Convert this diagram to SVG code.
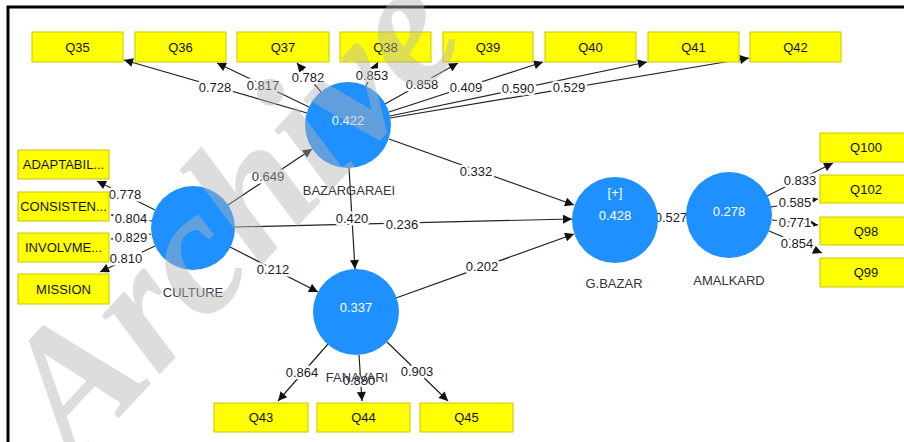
<svg xmlns="http://www.w3.org/2000/svg" width="904" height="442" viewBox="0 0 904 442">
<defs>
<marker id="ah" viewBox="0 0 10 10" refX="10" refY="5" markerWidth="10" markerHeight="9" markerUnits="userSpaceOnUse" orient="auto">
<path d="M0,0 L10,5 L0,10 z" fill="#111"/>
</marker>
<style>
.frame{stroke:#000;stroke-width:3;fill:none}
.box{fill:#FFFF00;stroke:#C9C400;stroke-width:1}
.bt{font-family:"Liberation Sans",Arial,sans-serif;font-size:13px;fill:#111;text-anchor:middle}
.lv{fill:#1E90FF}
.vt{font-family:"Liberation Sans",Arial,sans-serif;font-size:13px;fill:#fff;text-anchor:middle}
.nm{font-family:"Liberation Sans",Arial,sans-serif;font-size:13px;fill:#3a3242;text-anchor:middle}
.ln{stroke:#222;stroke-width:1.2;fill:none;marker-end:url(#ah)}
.lb{font-family:"Liberation Sans",Arial,sans-serif;font-size:13px;fill:#1a1a2a;text-anchor:middle;stroke:#fff;stroke-width:5;paint-order:stroke;stroke-linejoin:round}
.wm{font-family:"Liberation Serif","Times New Roman",serif;font-size:180px;font-weight:bold;font-style:italic;fill:#b4b4b4;opacity:0.45}
</style>
</defs>
<rect width="904" height="442" fill="#fff"/>
<path class="frame" d="M8,442 L8,7 L904,7"/>

<g id="connectors">
<line class="ln" x1="307" y1="113" x2="124" y2="60"/>
<line class="ln" x1="309" y1="107" x2="217" y2="63"/>
<line class="ln" x1="321" y1="92" x2="297" y2="63"/>
<line class="ln" x1="366" y1="86" x2="378" y2="62"/>
<line class="ln" x1="385" y1="104" x2="458" y2="63"/>
<line class="ln" x1="389" y1="112" x2="543" y2="62"/>
<line class="ln" x1="390" y1="116" x2="647" y2="62"/>
<line class="ln" x1="390" y1="118" x2="749" y2="58"/>
<line class="ln" x1="155" y1="210" x2="97" y2="181"/>
<line class="ln" x1="152" y1="221" x2="111" y2="215"/>
<line class="ln" x1="151" y1="234" x2="111" y2="239"/>
<line class="ln" x1="155" y1="246" x2="100" y2="272"/>
<line class="ln" x1="228" y1="205" x2="312" y2="149"/>
<line class="ln" x1="235" y1="227" x2="572" y2="219"/>
<line class="ln" x1="230" y1="247" x2="318" y2="292"/>
<line class="ln" x1="349" y1="168" x2="355" y2="269"/>
<line class="ln" x1="389" y1="139" x2="574" y2="205"/>
<line class="ln" x1="396" y1="298" x2="574" y2="234"/>
<line class="ln" x1="658" y1="219" x2="686" y2="216"/>
<line class="ln" x1="767" y1="196" x2="833" y2="163"/>
<line class="ln" x1="771" y1="207" x2="818" y2="199"/>
<line class="ln" x1="772" y1="220" x2="818" y2="225"/>
<line class="ln" x1="769" y1="231" x2="822" y2="253"/>
<line class="ln" x1="328" y1="344" x2="278" y2="401"/>
<line class="ln" x1="359" y1="355" x2="362" y2="401"/>
<line class="ln" x1="387" y1="342" x2="448" y2="401"/>
</g>

<g id="edge-labels">
<text class="lb" x="215" y="92">0.728</text>
<text class="lb" x="263" y="90">0.817</text>
<text class="lb" x="308" y="82">0.782</text>
<text class="lb" x="372" y="80">0.853</text>
<text class="lb" x="422" y="89">0.858</text>
<text class="lb" x="466" y="92">0.409</text>
<text class="lb" x="518" y="93">0.590</text>
<text class="lb" x="569" y="92">0.529</text>
<text class="lb" x="125" y="199">0.778</text>
<text class="lb" x="131" y="223">0.804</text>
<text class="lb" x="131" y="242">0.829</text>
<text class="lb" x="126" y="263">0.810</text>
<text class="lb" x="268" y="181">0.649</text>
<text class="lb" x="402" y="229">0.236</text>
<text class="lb" x="273" y="274">0.212</text>
<text class="lb" x="352" y="223">0.420</text>
<text class="lb" x="476" y="176">0.332</text>
<text class="lb" x="482" y="271">0.202</text>
<text class="lb" x="671" y="222">0.527</text>
<text class="lb" x="800" y="185">0.833</text>
<text class="lb" x="795" y="207">0.585</text>
<text class="lb" x="795" y="227">0.771</text>
<text class="lb" x="797" y="248">0.854</text>
<text class="lb" x="302" y="377">0.864</text>
<text class="lb" x="359" y="385">0.880</text>
<text class="lb" x="417" y="376">0.903</text>
</g>

<g id="Q35"><rect class="box" x="32" y="32" width="91" height="30"/><text class="bt" x="77.5" y="51.5">Q35</text></g>
<g id="Q36"><rect class="box" x="135" y="32" width="91" height="30"/><text class="bt" x="180.5" y="51.5">Q36</text></g>
<g id="Q37"><rect class="box" x="237" y="32" width="92" height="30"/><text class="bt" x="283" y="51.5">Q37</text></g>
<g id="Q38"><rect class="box" x="340" y="32" width="91" height="30"/><text class="bt" x="385.5" y="51.5">Q38</text></g>
<g id="Q39"><rect class="box" x="443" y="32" width="90" height="30"/><text class="bt" x="488" y="51.5">Q39</text></g>
<g id="Q40"><rect class="box" x="545" y="32" width="91" height="30"/><text class="bt" x="590.5" y="51.5">Q40</text></g>
<g id="Q41"><rect class="box" x="648" y="32" width="91" height="30"/><text class="bt" x="693.5" y="51.5">Q41</text></g>
<g id="Q42"><rect class="box" x="750" y="32" width="91" height="30"/><text class="bt" x="795.5" y="51.5">Q42</text></g>

<g id="ADAPTABIL"><rect class="box" x="18" y="150" width="91" height="29"/><text class="bt" x="63.5" y="169">ADAPTABIL...</text></g>
<g id="CONSISTEN"><rect class="box" x="18" y="192" width="91" height="29"/><text class="bt" x="63.5" y="211">CONSISTEN...</text></g>
<g id="INVOLVME"><rect class="box" x="18" y="233" width="91" height="29"/><text class="bt" x="63.5" y="252">INVOLVME...</text></g>
<g id="MISSION"><rect class="box" x="18" y="274" width="91" height="30"/><text class="bt" x="63.5" y="293.5">MISSION</text></g>

<g id="Q100"><rect class="box" x="820" y="133" width="92" height="29"/><text class="bt" x="866" y="152">Q100</text></g>
<g id="Q102"><rect class="box" x="820" y="175" width="92" height="28"/><text class="bt" x="866" y="193.5">Q102</text></g>
<g id="Q98"><rect class="box" x="820" y="217" width="92" height="28"/><text class="bt" x="866" y="235.5">Q98</text></g>
<g id="Q99"><rect class="box" x="820" y="258" width="92" height="29"/><text class="bt" x="866" y="277">Q99</text></g>

<g id="Q43"><rect class="box" x="214" y="403" width="94" height="29"/><text class="bt" x="261" y="422">Q43</text></g>
<g id="Q44"><rect class="box" x="317" y="403" width="93" height="29"/><text class="bt" x="363.5" y="422">Q44</text></g>
<g id="Q45"><rect class="box" x="420" y="403" width="93" height="29"/><text class="bt" x="466.5" y="422">Q45</text></g>

<g id="BAZARGARAEI"><circle class="lv" cx="348" cy="125" r="43"/><text class="vt" x="348" y="125">0.422</text><text class="nm" x="349" y="195">BAZARGARAEI</text></g>
<g id="CULTURE"><circle class="lv" cx="193" cy="228" r="42"/><text class="nm" x="193" y="297">CULTURE</text></g>
<g id="FANAVARI"><circle class="lv" cx="356" cy="312" r="43"/><text class="vt" x="356" y="312">0.337</text><text class="nm" x="357" y="382">FANAVARI</text></g>
<g id="G.BAZAR"><circle class="lv" cx="615" cy="220" r="43"/><text class="vt" x="615" y="197">[+]</text><text class="vt" x="615" y="220">0.428</text><text class="nm" x="614" y="288">G.BAZAR</text></g>
<g id="AMALKARD"><circle class="lv" cx="729" cy="215" r="43"/><text class="vt" x="729" y="216">0.278</text><text class="nm" x="729" y="285">AMALKARD</text></g>

<text class="wm" transform="translate(75,465) rotate(-47)">Archive</text>
</svg>
